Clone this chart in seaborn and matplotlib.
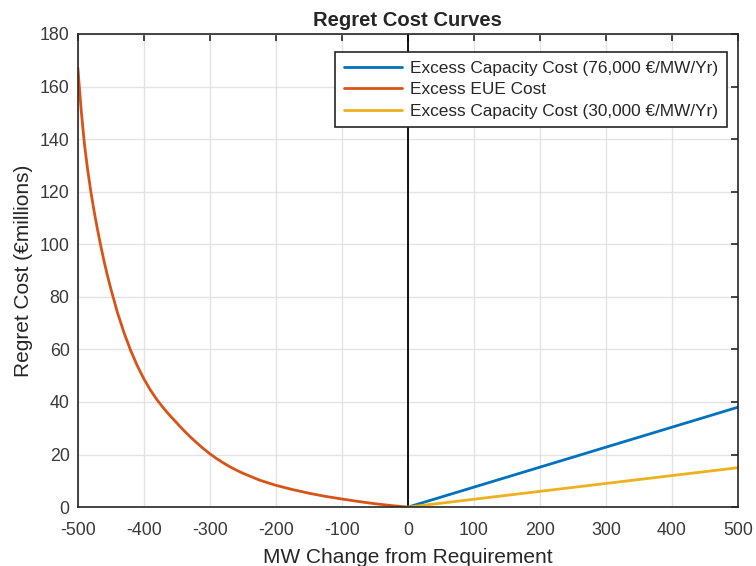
import matplotlib
matplotlib.use("Agg")
import matplotlib.pyplot as plt
import seaborn as sns

# donnees
mw_deficit = [-500, -495, -490, -485, -480, -475, -470, -465, -460, -455, -450, -445,
              -440, -430, -420, -410, -400, -390, -380, -370, -360, -350, -340, -330,
              -320, -310, -300, -290, -280, -270, -260, -250, -225, -200, -175, -150,
              -125, -100, -75, -50, -25, 0]
eue_cost = [167, 151, 138, 128, 119.5, 112, 105.3, 99, 93.2, 87.9, 83, 78.5,
            74, 66.3, 59.6, 53.8, 48.8, 44.5, 40.8, 37.6, 34.7, 32, 29.3, 26.8,
            24.5, 22.3, 20.3, 18.5, 16.9, 15.4, 14.1, 12.9, 10.3, 8.3, 6.7, 5.3,
            4.1, 3.1, 2.15, 1.3, 0.6, 0]

mw_excess = [0, 500]
cap_cost_76k = [0, 38]
cap_cost_30k = [0, 15]

sns.set_theme(style="whitegrid")
plt.rcParams['font.family'] = ['Liberation Sans', 'DejaVu Sans']
plt.rcParams['axes.unicode_minus'] = False  # tirets comme matlab

fig = plt.figure(figsize=(7.56, 5.66), dpi=100)
ax = fig.add_axes([0.103, 0.104, 0.873, 0.836])
ax.set_facecolor("white")

ax.axvline(0, color="black", linewidth=1.3, zorder=1)

sns.lineplot(x=mw_excess, y=cap_cost_76k, color="#0072BD", linewidth=2,
             label="Excess Capacity Cost (76,000 €/MW/Yr)", ax=ax)
sns.lineplot(x=mw_deficit, y=eue_cost, color="#D95319", linewidth=2,
             label="Excess EUE Cost", ax=ax)
sns.lineplot(x=mw_excess, y=cap_cost_30k, color="#EDB120", linewidth=2,
             label="Excess Capacity Cost (30,000 €/MW/Yr)", ax=ax)

ax.set_xlim(-500, 500)
ax.set_ylim(0, 180)
ax.set_xticks(range(-500, 501, 100))
ax.set_yticks(range(0, 181, 20))

ax.grid(True, color="#e3e3e3", linewidth=1)
for s in ax.spines.values():
    s.set_color("#262626")
    s.set_linewidth(1.2)
ax.tick_params(direction="in", length=5, width=1.2, color="#262626",
               top=True, right=True, labelsize=12.8, labelcolor="#3a3a3a")
ax.tick_params(axis="x", pad=11)
ax.tick_params(axis="y", pad=6)

ax.set_title("Regret Cost Curves", fontsize=14.6, fontweight="bold", pad=6)
ax.set_xlabel("MW Change from Requirement", fontsize=15, color="#262626", labelpad=6)
ax.set_ylabel("Regret Cost (€millions)", fontsize=15, color="#262626", labelpad=5)

leg = ax.legend(loc="upper right", bbox_to_anchor=(0.983, 0.962), fontsize=12.4,
                frameon=True, fancybox=False, framealpha=1, edgecolor="#262626",
                borderpad=0.5, labelspacing=0.38, handlelength=3.4,
                handletextpad=0.45, borderaxespad=0)
leg.get_frame().set_linewidth(1.2)
for t in leg.get_texts():
    t.set_color("#262626")

fig.savefig("out.png", dpi=100)
